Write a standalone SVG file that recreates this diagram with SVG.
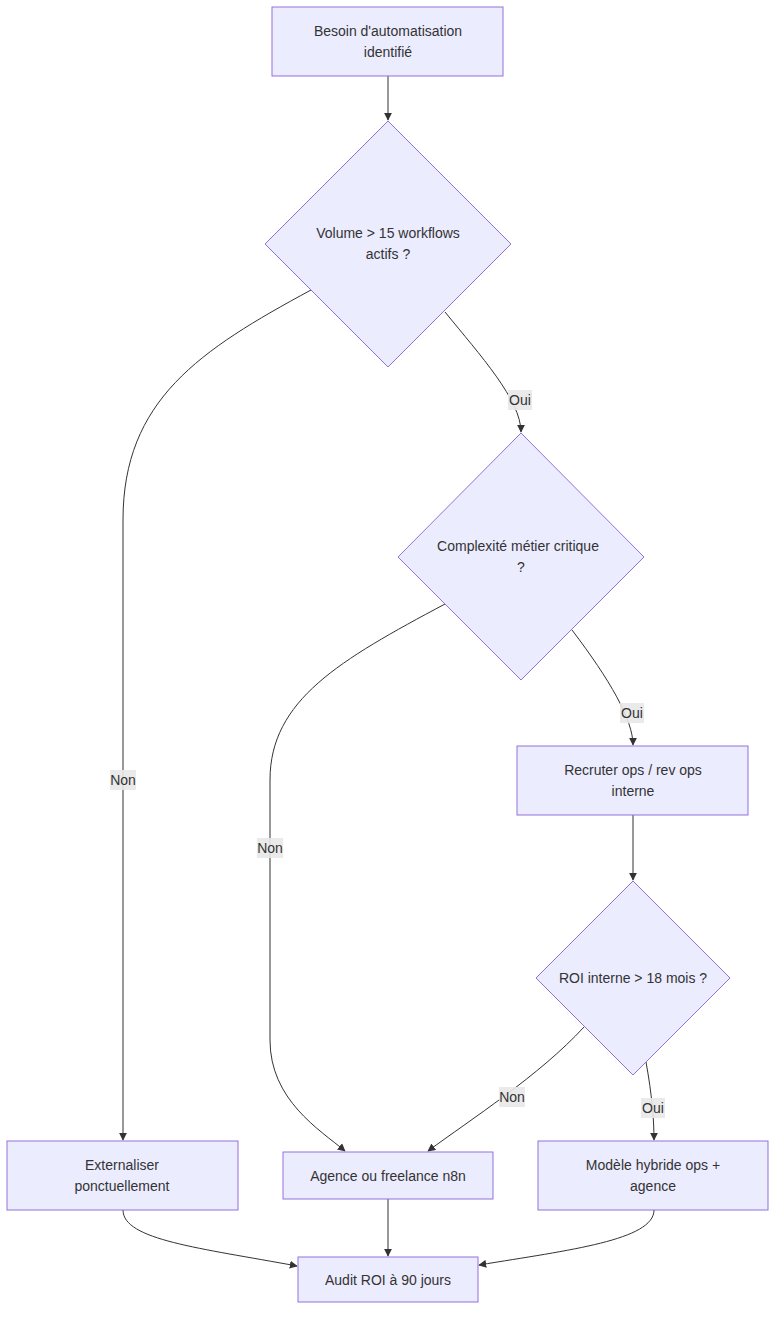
<svg xmlns="http://www.w3.org/2000/svg" width="784" height="1324" viewBox="0 0 784 1324">
<style>
.n{fill:#ECECFF;stroke:#9370DB;stroke-width:1}
.t{font-family:"Liberation Sans",Arial,sans-serif;font-size:14px;fill:#333;text-anchor:middle}
.e{fill:none;stroke:#333;stroke-width:1;marker-end:url(#ah)}
.lb{fill:#e8e8e8;opacity:0.9}
</style>
<defs><marker id="ah" viewBox="0 0 10 10" refX="9" refY="5" markerWidth="8" markerHeight="8" orient="auto"><path d="M0,0L10,5L0,10z" fill="#333"/></marker></defs>
<rect width="784" height="1324" fill="#fff"/>
<g id="edges">
<path class="e" d="M388,76V120"/>
<path class="e" d="M311,290C200,350 123,400 123,520V1140"/>
<path class="e" d="M445,312C480,355 521,400 521,432"/>
<path class="e" d="M445,604C340,660 270,700 270,780V1040C270,1100 320,1130 345,1151"/>
<path class="e" d="M572,630C610,680 633,720 633,745"/>
<path class="e" d="M633,815V880"/>
<path class="e" d="M584,1027C540,1075 470,1120 428,1151"/>
<path class="e" d="M646,1062C652,1095 654,1120 654,1140"/>
<path class="e" d="M123,1210C123,1240 200,1248 297,1266"/>
<path class="e" d="M388,1199V1256"/>
<path class="e" d="M654,1210C654,1240 570,1250 479,1265"/>
<rect class="lb" x="110" y="770" width="26" height="20"/><text class="t" x="123" y="785">Non</text>
<rect class="lb" x="508" y="390" width="24" height="20"/><text class="t" x="520" y="405">Oui</text>
<rect class="lb" x="257" y="838" width="26" height="20"/><text class="t" x="270" y="853">Non</text>
<rect class="lb" x="620" y="703" width="24" height="20"/><text class="t" x="632" y="718">Oui</text>
<rect class="lb" x="499" y="1087" width="26" height="20"/><text class="t" x="512" y="1102">Non</text>
<rect class="lb" x="641" y="1098" width="24" height="20"/><text class="t" x="653" y="1113">Oui</text>
</g>
<g id="A"><rect class="n" x="272" y="7" width="231" height="69"/><text class="t" x="388" y="36">Besoin d'automatisation</text><text class="t" x="388" y="57">identifié</text></g>
<g id="B"><polygon class="n" points="388,121 511,244 388,367 265,244"/><text class="t" x="388" y="238">Volume &gt; 15 workflows</text><text class="t" x="388" y="259">actifs ?</text></g>
<g id="C"><polygon class="n" points="521,433 644,557 521,680 398,557"/><text class="t" x="518" y="551">Complexité métier critique</text><text class="t" x="521" y="572">?</text></g>
<g id="D"><rect class="n" x="517" y="746" width="231" height="69"/><text class="t" x="633" y="775">Recruter ops / rev ops</text><text class="t" x="633" y="796">interne</text></g>
<g id="E"><polygon class="n" points="633,881 730,978 633,1075 536,978"/><text class="t" x="633" y="983">ROI interne &gt; 18 mois ?</text></g>
<g id="F"><rect class="n" x="7" y="1141" width="231" height="69"/><text class="t" x="122" y="1170">Externaliser</text><text class="t" x="122" y="1191">ponctuellement</text></g>
<g id="G"><rect class="n" x="283" y="1152" width="210" height="47"/><text class="t" x="388" y="1181">Agence ou freelance n8n</text></g>
<g id="H"><rect class="n" x="538" y="1141" width="230" height="69"/><text class="t" x="653" y="1170">Modèle hybride ops +</text><text class="t" x="653" y="1191">agence</text></g>
<g id="I"><rect class="n" x="298" y="1257" width="180" height="45"/><text class="t" x="388" y="1285">Audit ROI à 90 jours</text></g>
</svg>
